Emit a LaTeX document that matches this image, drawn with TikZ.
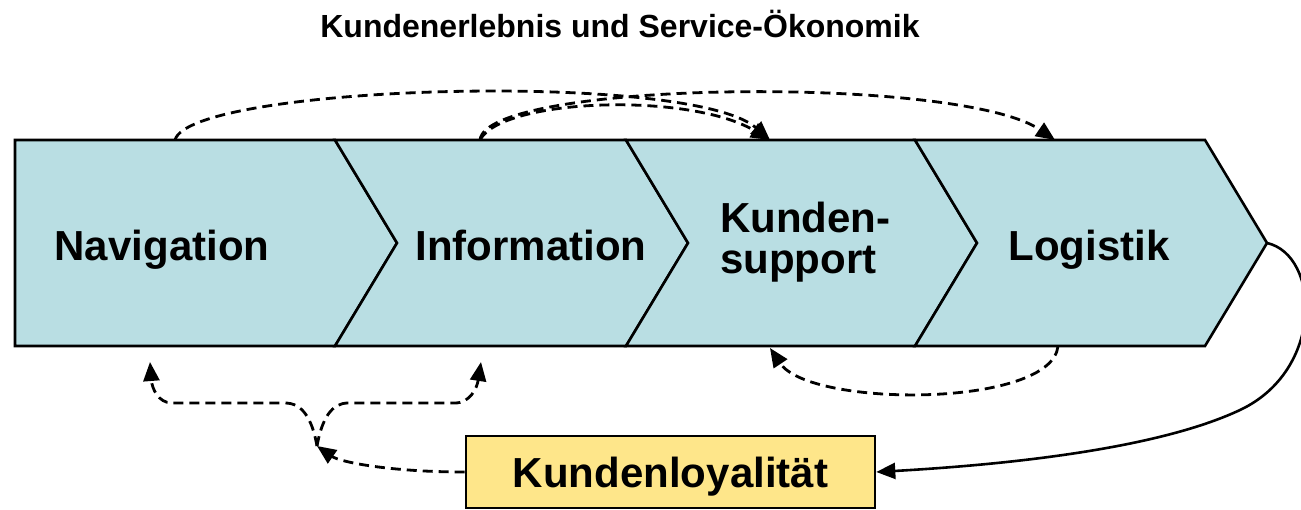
\documentclass[tikz,border=0pt]{standalone}
\usepackage{fontspec}
\setmainfont{Liberation Sans}
\usetikzlibrary{arrows.meta}
\definecolor{chevblue}{RGB}{185,222,227}
\definecolor{loyalyellow}{RGB}{254,230,138}
\begin{document}
\begin{tikzpicture}
  [x=1pt,y=-1pt,every node/.style={font=\bfseries\fontsize{42}{41}\selectfont}]
  \tikzstyle{chevron} = [draw=black,line width=2.6pt,fill=chevblue,line join=miter]
  \tikzstyle{flow} = [line width=2.8pt,dash pattern=on 10pt off 6pt,-{Triangle[length=19pt,width=16pt]}]
  \tikzstyle{back} = [line width=2.6pt,-{Triangle[length=19pt,width=16pt]}]
  \useasboundingbox (0,0) rectangle (1301,509);
  \node[anchor=base,font=\bfseries\fontsize{32}{32}\selectfont] (title) at (620,37) {Kundenerlebnis und Service-Ökonomik};
  % chevrons
  \draw[chevron] (15,140) -- (335,140) -- (397,243) -- (335,346) -- (15,346) -- cycle;
  \foreach \l /\r in {335/626,626/915,915/1205}
   \draw[chevron] (\l,140) -- (\r,140) -- (\r+62,243) -- (\r,346) -- (\l,346) -- (\l+62,243) -- cycle;
  \node[anchor=base] (nav) at (162,260) {Navigation};
  \node[anchor=base] (info) at (531,260) {Information};
  \node[anchor=base west,align=left,inner sep=0pt] (supp) at (720,273) {Kunden-\\support};
  \node[anchor=base] (logi) at (1089,260) {Logistik};
  \node[draw,fill=loyalyellow,line width=2.6pt,minimum width=409pt,minimum height=72pt,text height=30.6pt,text depth=0pt] (loyal) at (670.5,472) {Kundenloyalität};
  \coordinate (navtop) at (175,140);
  \coordinate (infotop) at (480,140);
  \coordinate (supptop) at (770,140);
  \coordinate (logitop) at (1055,140);
  \coordinate (logibot) at (1058,346);
  \coordinate (suppbot) at (770,348);
  \coordinate (logitip) at (1267,243);
  \coordinate (fork) at (317,446);
  \coordinate (navbot) at (150,362);
  \coordinate (infobot) at (481,362);
  % dashed flows
  \draw[flow] (navtop) .. controls (190,85) and (690,70) .. (supptop);
  \draw[flow] (infotop) .. controls (502,98) and (690,92) .. (supptop);
  \draw[flow] (infotop) .. controls (486,80) and (960,75) .. (logitop);
  \draw[flow] (logibot) .. controls (1052,408) and (810,408) .. (suppbot);
  \draw[flow] (loyal.west) .. controls (390,472) and (340,462) .. (fork);
  \draw[flow] (fork) .. controls (312,418) and (302,403) .. (285,403) -- (172,403) .. controls (158,403) and (152,388) .. (navbot);
  \draw[flow] (fork) .. controls (322,418) and (332,403) .. (348,403) -- (455,403) .. controls (470,403) and (477,388) .. (infobot);
  % feedback
  \draw[back] (logitip) .. controls (1320,255) and (1325,370) .. (1240,410) .. controls (1155,450) and (1000,465) .. (loyal.east);
\end{tikzpicture}
\end{document}
